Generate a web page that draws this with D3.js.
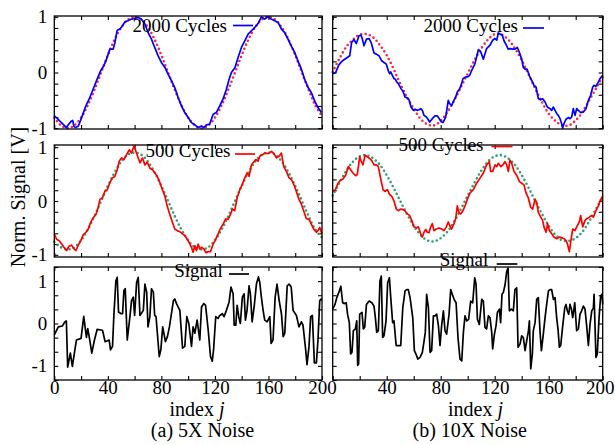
<!DOCTYPE html>
<html>
<head>
<meta charset="utf-8">
<script src="https://cdn.jsdelivr.net/npm/d3@7"></script>
<style>
  body { margin: 0; background: #fff; }
  text { font-family: "Liberation Serif", "Times New Roman", serif; fill: #000; }
</style>
</head>
<body>
<svg id="chart" width="615" height="445"></svg>
<script>
// ---- data: [index j, value] ----
const xTicks = [0, 20, 40, 60, 80, 100, 120, 140, 160, 180, 200];
const xLabelsLeft = [0, 40, 80, 120, 160, 200];
const xLabelsRight = [40, 80, 120, 160, 200];
const yLabels = [-1, 0, 1];

// 5X noise, 2000 cycles (blue) and its reference (red dots)
const cyc2000A = [[0,-0.78],[2,-0.82],[4,-0.87],[7,-0.94],[9,-0.99],[10.5,-0.94],[12.4,-0.88],[13.7,-0.86],[14.7,-0.97],[16,-0.99],[18,-0.96],[20.4,-0.81],[23.6,-0.6],[26,-0.48],[29,-0.3],[32,-0.12],[34.6,0.03],[37,0.12],[39,0.24],[41.5,0.42],[44,0.42],[45.3,0.54],[47,0.76],[49,0.78],[51,0.84],[52.7,0.91],[55,0.93],[57.7,0.96],[60,0.97],[62.7,0.99],[65,0.96],[67.7,0.87],[70,0.72],[72.6,0.6],[75,0.45],[77.6,0.3],[80,0.18],[82.6,0.09],[85,-0.03],[87.6,-0.15],[90,-0.27],[92.5,-0.45],[95,-0.6],[97.5,-0.72],[100,-0.81],[102.5,-0.9],[105,-0.94],[107.5,-0.99],[110,-0.96],[111.7,-0.99],[113.7,-0.94],[116,-0.93],[118.7,-0.75],[121,-0.72],[123.6,-0.6],[126,-0.48],[128.6,-0.3],[130.6,-0.12],[132.3,0],[135,0.09],[137.3,0.27],[139.8,0.45],[142.3,0.57],[144.8,0.69],[147.3,0.75],[149.8,0.81],[152.2,0.88],[154.7,1.0],[157.2,0.96],[159.7,1.0],[162,0.96],[164.7,0.93],[167.2,0.9],[169.7,0.78],[172,0.72],[174.6,0.6],[177,0.48],[179.6,0.36],[182,0.21],[184.6,0.06],[187,-0.12],[189.6,-0.27],[192,-0.36],[194.5,-0.51],[197,-0.63],[199.5,-0.72]];
const refA = [[0,-0.81],[5,-0.95],[10,-1],[15,-0.95],[20,-0.81],[25,-0.59],[30,-0.31],[35,0],[40,0.31],[45,0.59],[50,0.81],[55,0.95],[60,1],[65,0.95],[70,0.81],[75,0.59],[80,0.31],[85,0],[90,-0.31],[95,-0.59],[100,-0.81],[105,-0.95],[110,-1],[115,-0.95],[120,-0.81],[125,-0.59],[130,-0.31],[135,0],[140,0.31],[145,0.59],[150,0.81],[155,0.95],[160,1],[165,0.95],[170,0.81],[175,0.59],[180,0.31],[185,0],[190,-0.31],[195,-0.59],[200,-0.78]];

// 10X noise, 2000 cycles
const cyc2000B = [[0,-0.02],[2.2,0],[4.2,0.12],[5.9,0.18],[8.4,0.23],[10.8,0.27],[12.6,0.3],[14,0.54],[15.8,0.59],[17.5,0.52],[19.5,0.66],[21,0.67],[22,0.6],[23.2,0.48],[25,0.6],[27,0.61],[28.6,0.53],[30.6,0.35],[32.3,0.33],[34.3,0.3],[36.3,0.21],[38,0.18],[39.7,0.15],[41.2,0.03],[42.2,-0.02],[43,0.01],[44.2,-0.05],[45.4,-0.11],[46.4,-0.12],[47.4,-0.17],[48.6,-0.2],[50.6,-0.29],[52.3,-0.35],[53.5,-0.44],[55.5,-0.46],[56.5,-0.49],[58,-0.62],[59.7,-0.68],[61,-0.66],[62.5,-0.68],[63.9,-0.67],[65.2,-0.65],[66.4,-0.68],[67.6,-0.77],[69.4,-0.8],[70.6,-0.84],[71.8,-0.89],[73.8,-0.83],[75.8,-0.78],[77.5,-0.78],[78.7,-0.82],[80.2,-0.88],[81.7,-0.9],[83.7,-0.8],[85.6,-0.5],[86.6,-0.56],[88.1,-0.59],[89.8,-0.5],[91.1,-0.44],[92.3,-0.35],[94.1,-0.29],[95.5,-0.2],[96.5,-0.11],[98.5,-0.08],[100,-0.08],[101.5,-0.05],[103,0.04],[105.4,0.16],[107.9,0.41],[109.5,0.38],[111.6,0.24],[114,0.43],[116.5,0.49],[118.5,0.58],[120.2,0.61],[121.5,0.58],[122.7,0.71],[124,0.69],[125.5,0.68],[126.9,0.57],[128.9,0.48],[130,0.42],[131.5,0.43],[133.3,0.42],[135,0.42],[136.8,0.45],[138.3,0.36],[140,0.24],[141.2,0.09],[142.5,0.06],[144,0.06],[145.7,-0.06],[147.4,-0.14],[149.1,-0.23],[150.6,-0.26],[152.3,-0.47],[154,-0.49],[155.5,-0.47],[157.3,-0.53],[159,-0.62],[161,-0.65],[162.2,-0.68],[163.4,-0.62],[164.7,-0.68],[166,-0.74],[167.1,-0.77],[168.4,-0.83],[169.6,-0.92],[170.3,-1.0],[171.3,-0.92],[172.8,-0.84],[174.5,-0.81],[175.8,-0.83],[177,-0.8],[178.2,-0.65],[179.5,-0.77],[180.7,-0.65],[182,-0.68],[183.7,-0.72],[185.7,-0.71],[187.6,-0.65],[189.4,-0.5],[191.1,-0.41],[192.6,-0.26],[193.6,-0.23],[195,-0.25],[196.8,-0.17],[198,-0.11],[200,-0.05]];
const refB = [[0,0.01],[5,0.25],[10,0.46],[15,0.59],[20,0.68],[25,0.69],[30,0.63],[35,0.49],[40,0.31],[45,0.07],[50,-0.2],[55,-0.44],[60,-0.65],[65,-0.83],[70,-0.93],[75,-0.95],[80,-0.87],[85,-0.71],[90,-0.5],[95,-0.26],[100,-0.02],[105,0.22],[110,0.43],[115,0.59],[120,0.69],[125,0.68],[130,0.59],[135,0.43],[140,0.22],[145,-0.03],[150,-0.29],[155,-0.53],[160,-0.74],[165,-0.87],[170,-0.95],[175,-0.95],[180,-0.86],[185,-0.71],[190,-0.5],[195,-0.29],[200,-0.08]];

// 5X noise, 500 cycles (red) and its reference (green dots)
const cyc500A = [[0,-0.61],[1.7,-0.71],[3.7,-0.74],[5.5,-0.8],[7.2,-0.86],[9.2,-0.92],[10.9,-0.84],[12.9,-0.82],[14.7,-0.89],[16.2,-0.92],[17.9,-0.82],[19.7,-0.74],[21.6,-0.63],[23.6,-0.58],[25.4,-0.52],[27.1,-0.4],[29.1,-0.31],[31.1,-0.25],[32.8,-0.12],[34.1,0.03],[36,0.06],[37.8,0.18],[39.6,0.21],[41.5,0.34],[43.5,0.43],[45.3,0.46],[47,0.58],[48.5,0.74],[50.2,0.8],[52,0.77],[54,0.86],[56,0.95],[57.7,0.89],[59.5,1.02],[61,0.92],[62.7,0.8],[64,0.71],[65.9,0.8],[67.7,0.67],[69.4,0.72],[71.4,0.61],[73.4,0.58],[75.1,0.52],[76.9,0.46],[78.9,0.34],[80.8,0.21],[82.6,0.09],[84.3,-0.09],[86.3,-0.25],[88.3,-0.4],[90,-0.52],[91.8,-0.55],[93.8,-0.57],[95.8,-0.61],[97.5,-0.64],[99.3,-0.71],[100.7,-0.77],[102.5,-0.86],[103.7,-0.95],[105,-0.83],[106.2,-0.92],[107.5,-0.8],[108.7,-0.89],[110,-0.86],[111.7,-0.89],[113.2,-0.96],[114.9,-0.94],[116.7,-0.94],[118.7,-0.8],[120.6,-0.71],[122.4,-0.61],[124.1,-0.51],[126.1,-0.43],[128.1,-0.33],[129.9,-0.34],[131.6,-0.25],[133.1,-0.15],[134.8,-0.18],[136.6,0.06],[138.6,0.21],[140.5,0.31],[142.3,0.43],[144,0.52],[145.5,0.46],[147.3,0.67],[148.5,0.71],[150.5,0.77],[152.2,0.74],[153.5,0.83],[155.5,0.86],[157.2,0.89],[159.7,0.88],[162.2,0.92],[163.9,0.89],[165.9,0.8],[167.9,0.83],[169.7,0.89],[171.4,0.64],[173.4,0.55],[175.4,0.43],[177.1,0.4],[178.9,0.31],[180.8,0.18],[182.8,0.03],[184.6,-0.06],[186.3,-0.18],[188.3,-0.33],[190.3,-0.34],[192,-0.43],[193.8,-0.52],[195.8,-0.58],[197,-0.55],[198.3,-0.49],[200,-0.61]];
const ref500A = [[0,-0.76],[5,-0.86],[10,-0.9],[15,-0.86],[20,-0.73],[25,-0.53],[30,-0.28],[35,0],[40,0.28],[45,0.53],[50,0.73],[55,0.86],[60,0.9],[65,0.86],[70,0.73],[75,0.53],[80,0.28],[85,0],[90,-0.28],[95,-0.53],[100,-0.73],[105,-0.86],[110,-0.9],[115,-0.86],[120,-0.73],[125,-0.53],[130,-0.28],[135,0],[140,0.28],[145,0.53],[150,0.73],[155,0.86],[160,0.9],[165,0.86],[170,0.73],[175,0.53],[180,0.28],[185,0],[190,-0.28],[195,-0.53],[200,-0.68]];

// 10X noise, 500 cycles
const cyc500B = [[0,0.18],[2,0.21],[3.9,0.33],[5.9,0.39],[7.6,0.41],[9.6,0.48],[11.6,0.64],[13.3,0.58],[15,0.52],[17,0.47],[18.2,0.49],[20,0.82],[21.2,0.73],[22.4,0.67],[24,0.85],[25.7,0.82],[27.4,0.79],[28.9,0.75],[30.6,0.67],[32.3,0.67],[33.8,0.64],[35.5,0.42],[37.3,0.21],[38.7,0.18],[40.5,0.21],[42.2,0.12],[43.7,0.09],[45.4,0],[47.1,-0.15],[48.6,-0.18],[50.3,-0.15],[52,-0.16],[53.5,-0.18],[55.3,-0.24],[57,-0.27],[58.5,-0.36],[60.2,-0.48],[62,-0.5],[63.4,-0.48],[65.2,-0.61],[66.4,-0.67],[67.6,-0.58],[68.9,-0.53],[70.1,-0.58],[71.3,-0.59],[72.6,-0.48],[73.8,-0.42],[75,-0.55],[76.8,-0.52],[78.7,-0.5],[80.7,-0.52],[82.4,-0.55],[84.2,-0.48],[85.6,-0.39],[86.6,-0.45],[88.1,-0.52],[89.8,-0.42],[91.1,-0.33],[92.3,-0.09],[93.5,-0.21],[94.8,-0.24],[96.5,-0.18],[98.5,-0.06],[99.7,0.03],[101.7,0.15],[104.2,0.21],[106.6,0.33],[109,0.42],[111.6,0.52],[114,0.67],[116,0.73],[117,0.55],[118.5,0.55],[120.2,0.67],[121.5,0.64],[122.7,0.7],[124.5,0.64],[126,0.67],[127.6,0.73],[128.9,0.67],[130.1,0.55],[131.3,0.76],[132.6,0.7],[134.3,0.55],[136.3,0.48],[138.3,0.36],[140,0.33],[141.7,0.3],[143.2,0.15],[144.9,0.06],[146.7,-0.12],[148.1,-0.15],[149.9,0.03],[151.1,-0.03],[152.3,-0.21],[154.1,-0.3],[155.5,-0.36],[156.5,-0.48],[158,-0.58],[159.2,-0.42],[160.5,-0.55],[162.2,-0.61],[163.9,-0.67],[165.9,-0.7],[167.9,-0.67],[169.6,-0.68],[171.3,-0.7],[172.8,-0.73],[173.8,-0.79],[175.3,-0.94],[176.3,-0.76],[177.8,-0.52],[179.5,-0.55],[180.7,-0.48],[182.7,-0.39],[183.7,-0.27],[185.2,-0.48],[186.9,-0.36],[188.1,-0.33],[190.1,-0.3],[191.8,-0.27],[193.1,-0.3],[195,-0.18],[196.8,-0.09],[198.5,0.03],[200,0.09]];
const ref500B = [[0,0.1],[5,0.34],[10,0.56],[15,0.73],[20,0.83],[25,0.85],[30,0.79],[35,0.67],[40,0.48],[45,0.25],[50,0],[55,-0.24],[60,-0.46],[65,-0.63],[70,-0.73],[75,-0.75],[80,-0.69],[85,-0.57],[90,-0.38],[95,-0.15],[100,0.1],[105,0.34],[110,0.56],[115,0.73],[120,0.83],[125,0.85],[130,0.79],[135,0.67],[140,0.48],[145,0.25],[150,0],[155,-0.24],[160,-0.46],[165,-0.63],[170,-0.73],[175,-0.74],[180,-0.69],[185,-0.57],[190,-0.38],[195,-0.15],[200,0.07]];

// raw signal
const signalA = [[0,-0.27],[3,-0.08],[6,-0.06],[8,0.04],[9,0.06],[10,-1.03],[12,-0.7],[13.5,-1.01],[16.5,-0.39],[20,-0.35],[22,0.17],[24,-0.33],[25,-0.12],[26.5,-0.39],[28,-0.7],[30,-0.39],[32,-0.14],[36,-0.16],[38,-0.43],[41,-0.39],[42,-0.62],[43.5,-0.54],[44.5,0.19],[46,1.01],[47,1.09],[48,0.27],[50,0.23],[51,0.23],[52,0.78],[53,0.82],[54.5,-0.39],[56.5,0.16],[57.7,0.54],[59,0.62],[60,0.19],[61.5,0.97],[62.7,1.09],[64,0.19],[66.5,0.31],[67.7,0.93],[69,0.74],[70,-0.08],[71.4,0.16],[72.6,0.82],[74,0.74],[75,0.19],[76,0.16],[78.4,-0.78],[79.6,-0.62],[81,-0.08],[83,-0.43],[84.5,-0.31],[86,-0.08],[89,0.54],[90,0.58],[91.3,0.47],[93.8,0.31],[95.8,-0.58],[97.5,-0.54],[99,0.16],[100.5,0],[102.5,-0.54],[103.7,-0.08],[105,-0.23],[106.7,0.08],[108.7,-0.39],[110,0.39],[111.7,0.47],[113,0.43],[115,-0.16],[116.7,-0.78],[118,-0.89],[119,-0.62],[120.6,0.16],[122.4,0.12],[123.6,0.19],[125.6,0.23],[126.8,0.16],[128.6,0.31],[130.6,0.51],[132,0.86],[133.6,0.7],[134.4,-0.04],[135.6,-0.04],[136.6,0.43],[137.8,0.16],[139,0],[140.5,0.62],[141.8,0.7],[142.8,0.08],[144,0.31],[145.5,0.89],[146.5,0.7],[147.8,0.04],[149.3,0.39],[151,0.93],[152.5,1.1],[153.5,0.97],[154.7,0.62],[156,0.31],[157.2,0.08],[159,0.04],[161,0.16],[162,-0.47],[163.4,-0.39],[165,0.62],[166.4,0.93],[168,0.54],[169.7,0.23],[171,-0.31],[172.2,-0.23],[174,0.89],[175.4,0.93],[177,0.86],[178.4,0.31],[180.9,0.19],[182.8,-0.08],[184.6,0.04],[185.8,-0.04],[187.8,-0.62],[188.8,-0.97],[190.3,-0.54],[191.5,0.16],[192.8,0.19],[194.3,-0.93],[195.8,-0.93],[197,-0.39],[198.3,0.54],[199.5,0.58],[200,0.54]];
const signalB = [[0,0.34],[1.7,0.45],[3,0.61],[5,0.77],[6,0.88],[7.4,0.49],[8.4,0.47],[10,0.49],[11,0.22],[12.3,0.02],[13.3,-0.72],[14.3,-0.68],[15.3,-0.17],[16.8,-0.13],[17.8,0.06],[18.5,-0.99],[19.2,-0.95],[20,0.22],[21.7,0.26],[22.7,-0.13],[23.7,-0.09],[25,0.45],[27,0.53],[29,0.49],[30.6,0.41],[31.6,0.14],[32.6,-0.21],[33.8,-0.17],[35,1.0],[36,1.12],[37,-0.33],[38,-0.29],[39.5,0.06],[40.7,0.96],[42,1.08],[43,0.61],[44.4,0.02],[45.4,0.06],[47,-0.52],[48.6,-0.52],[50.4,-0.52],[51.9,0.37],[53.6,0.77],[54.8,0.8],[56,0.8],[57.3,0.61],[59.3,0.14],[60.5,-0.64],[61.7,-0.72],[63,-0.84],[64.7,-0.8],[66.4,-0.68],[67.7,-0.41],[68.6,-0.21],[69.6,0.69],[70.9,0.37],[72.1,-0.68],[73.3,-0.64],[74.6,0.18],[75.8,0.18],[77,0.22],[78.3,-0.05],[79.5,-0.52],[80.7,-0.05],[82,0.3],[83.2,-0.17],[84.4,-0.25],[86.2,0.22],[87.4,0.8],[88.6,0.69],[89.9,0.57],[91.4,0.49],[92.8,-0.33],[94.3,-0.84],[95.6,-0.88],[96.8,-0.21],[98,0.18],[99.3,0.06],[100.7,0.1],[102.2,0.53],[103.7,0.49],[105.2,1.08],[106.2,0.92],[107.2,0.1],[108.6,-0.02],[110.4,0.57],[111.6,0.53],[112.8,-0.09],[114,-0.13],[115.3,0.18],[116.5,0.14],[117.8,-0.21],[118.5,-0.6],[119.8,-0.25],[121,-0.05],[122,0.26],[123.5,0.34],[124.4,0.02],[125.4,0.69],[126.4,0.73],[127.7,0.92],[128.9,1.23],[129.9,1.31],[130.9,0.3],[132.3,0.34],[133.8,0.3],[135,0.8],[136.3,0.84],[137.3,-0.56],[138.8,-0.48],[140,-0.29],[141.2,-0.33],[142.5,-0.64],[143.7,-0.41],[145,-0.17],[145.7,0.06],[146.7,-1.07],[147.9,-0.72],[148.6,-0.17],[149.9,0.02],[151.1,0.57],[152.3,0.61],[153.6,-0.21],[154.6,-0.64],[156,-0.25],[157.3,0.14],[158.5,0.45],[159.8,0.77],[161,0.8],[162.2,0.8],[163.5,0.57],[164.7,0.61],[165.9,0.14],[167,-0.17],[167.9,-0.56],[168.9,-0.52],[170.4,-0.05],[171.9,0.37],[172.8,0.45],[173.8,0.3],[174.8,0.22],[175.8,0.45],[176.8,0.34],[177.8,0.14],[179.3,0.49],[180.7,-0.17],[182,-0.13],[183.2,0.22],[184.4,0.3],[185.7,0.41],[186.9,0.34],[188.1,-0.05],[189.4,-0.52],[190.6,-0.02],[191.9,0.3],[193.1,0.37],[193.6,0.69],[195,-0.8],[196,-0.72],[197.3,0.14],[198.5,0.65],[199.5,0.69],[200,0.45]];

// ---- layout ----
const svg = d3.select("#chart");
const FONT = 19;

const cols = [
  { x: d3.scaleLinear().domain([0, 200]).range([54.3, 322]), labels: xLabelsLeft },
  { x: d3.scaleLinear().domain([0, 200]).range([332.7, 602.7]), labels: xLabelsRight }
];
const rows = [
  { y: d3.scaleLinear().domain([-1.015, 1.015]).range([129, 16]), ticks: d3.range(-5, 6).map(k => k / 5) },
  { y: d3.scaleLinear().domain([-1.04, 1.04]).range([257, 145]), ticks: d3.range(-5, 6).map(k => k / 5) },
  { y: d3.scaleLinear().domain([-4 / 3, 4 / 3]).range([380, 267]), ticks: d3.range(-4, 5).map(k => k / 3) }
];

const panels = [
  { c: 0, r: 0, solid: cyc2000A, color: "#0000ff", ref: refA, refColor: "#f0284f", name: "2000 Cycles", leg: [227, 32, 233, 253, 25.5] },
  { c: 1, r: 0, solid: cyc2000B, color: "#0000ff", ref: refB, refColor: "#f0284f", name: "2000 Cycles", leg: [518, 32, 523, 544, 28] },
  { c: 0, r: 1, solid: cyc500A, color: "#ff0000", ref: ref500A, refColor: "#2ca26d", name: "500 Cycles", leg: [230.5, 157, 235, 255, 154] },
  { c: 1, r: 1, solid: cyc500B, color: "#ff0000", ref: ref500B, refColor: "#2ca26d", name: "500 Cycles", leg: [483.5, 150.5, 491.5, 512.5, 146.5] },
  { c: 0, r: 2, solid: signalA, color: "#000", ref: null, name: "Signal", leg: [222.7, 277, 229, 249, 274] },
  { c: 1, r: 2, solid: signalB, color: "#000", ref: null, name: "Signal", leg: [488.3, 266, 496.7, 517.3, 264] }
];

function cleanAxis(g) {
  g.select(".domain").remove();
  g.selectAll("line").attr("stroke", "#000").attr("stroke-width", 1.1);
  g.attr("font-family", null).attr("font-size", null);
}

panels.forEach(p => {
  const x = cols[p.c].x, y = rows[p.r].y;
  const g = svg.append("g");
  const [x0, x1] = x.range(), [y0, y1] = y.range();

  // ticks pointing inward on all four sides
  g.append("g").attr("transform", `translate(0,${y0})`)
    .call(d3.axisBottom(x).tickValues(xTicks).tickSizeInner(-4).tickSizeOuter(0).tickFormat(""))
    .call(cleanAxis);
  g.append("g").attr("transform", `translate(0,${y1})`)
    .call(d3.axisTop(x).tickValues(xTicks).tickSizeInner(-4).tickSizeOuter(0).tickFormat(""))
    .call(cleanAxis);
  g.append("g").attr("transform", `translate(${x0},0)`)
    .call(d3.axisLeft(y).tickValues(rows[p.r].ticks).tickSizeInner(-4).tickSizeOuter(0).tickFormat(""))
    .call(cleanAxis);
  g.append("g").attr("transform", `translate(${x1},0)`)
    .call(d3.axisRight(y).tickValues(rows[p.r].ticks).tickSizeInner(-4).tickSizeOuter(0).tickFormat(""))
    .call(cleanAxis);

  // tick labels
  if (p.c === 0) {
    g.append("g").attr("transform", `translate(${x0},0)`)
      .call(d3.axisLeft(y).tickValues(yLabels).tickSize(0).tickPadding(7).tickFormat(d => String(d)))
      .call(cleanAxis)
      .selectAll("text").style("font-size", FONT + "px");
  }
  if (p.r === 2) {
    const ax = g.append("g").attr("transform", `translate(0,${y0})`)
      .call(d3.axisBottom(x).tickValues(cols[p.c].labels).tickSize(0).tickPadding(0.5).tickFormat(d => String(d)))
      .call(cleanAxis);
    ax.selectAll("text").style("font-size", FONT + "px");
    // the last label of the right panel sits against the page edge
    if (p.c === 1) {
      ax.selectAll(".tick").filter(d => d === 200).select("text")
        .attr("text-anchor", "end").attr("x", 614 - x(200));
    }
  }

  const line = d3.line().x(d => x(d[0])).y(d => y(d[1]));

  if (p.ref) {
    g.append("path").datum(p.ref)
      .attr("d", line.curve(d3.curveCatmullRom)(p.ref))
      .attr("fill", "none")
      .attr("stroke", p.refColor)
      .attr("stroke-width", 2.6)
      .attr("stroke-linecap", "round")
      .attr("stroke-dasharray", "0 4.4");
  }
  g.append("path").datum(p.solid)
    .attr("d", d3.line().x(d => x(d[0])).y(d => y(d[1]))(p.solid))
    .attr("fill", "none")
    .attr("stroke", p.color)
    .attr("stroke-width", 1.7)
    .attr("stroke-linejoin", "round");

  // frame
  g.append("rect")
    .attr("x", x0).attr("y", y1)
    .attr("width", x1 - x0).attr("height", y0 - y1)
    .attr("fill", "none").attr("stroke", "#000").attr("stroke-width", 1.3);

  // legend
  const [tx, ty, lx0, lx1, ly] = p.leg;
  g.append("text").attr("x", tx).attr("y", ty)
    .attr("text-anchor", "end").style("font-size", FONT + "px").text(p.name);
  g.append("line").attr("x1", lx0).attr("x2", lx1).attr("y1", ly).attr("y2", ly)
    .attr("stroke", p.color).attr("stroke-width", 1.7);
});

// axis titles and captions
svg.append("text")
  .attr("transform", "translate(25,197) rotate(-90)")
  .attr("text-anchor", "middle").style("font-size", "20px")
  .text("Norm. Signal [V]");

[{ cx: 197, cap: "(a) 5X Noise", capx: 202.5 }, { cx: 475.5, cap: "(b) 10X Noise", capx: 469.7 }].forEach(d => {
  const t = svg.append("text").attr("x", d.cx).attr("y", 416)
    .attr("text-anchor", "middle").style("font-size", "20px");
  t.append("tspan").text("index ");
  t.append("tspan").style("font-style", "italic").text("j");
  svg.append("text").attr("x", d.capx).attr("y", 437)
    .attr("text-anchor", "middle").style("font-size", "20px").text(d.cap);
});
</script>
</body>
</html>
